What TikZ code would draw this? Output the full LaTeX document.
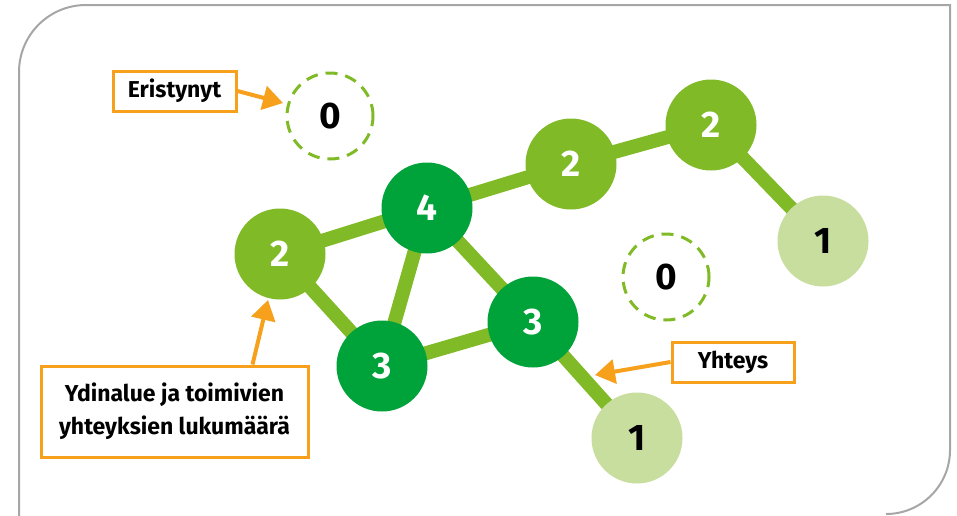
\documentclass[tikz,border=0pt]{standalone}
\usepackage{fontspec}
\setmainfont{Fira Sans}
\usetikzlibrary{arrows.meta,backgrounds}
\definecolor{midgreen}{HTML}{80BA27}
\definecolor{darkgreen}{HTML}{00A23A}
\definecolor{palegreen}{HTML}{C8DE9F}
\definecolor{orangeC}{HTML}{F7A01C}
\definecolor{frameC}{HTML}{A6A6A6}
\tikzset{
  vnode/.style={circle, minimum size=91pt, inner sep=0pt, font=\fontsize{37}{37}\selectfont\bfseries},
  vmid/.style={vnode, fill=midgreen, text=white},
  vdark/.style={vnode, fill=darkgreen, text=white},
  vpale/.style={vnode, fill=palegreen, text=black},
  viso/.style={vnode, minimum size=86pt, draw=midgreen, line width=3pt, dash pattern=on 12pt off 8pt, text=black},
  edgeL/.style={draw=midgreen, line width=14pt},
  lbl/.style={draw=orangeC, line width=3pt, fill=white, inner sep=0pt, align=center, font=\fontsize{23}{33}\selectfont\bfseries},
  arr/.style={draw=orangeC, line width=4pt, -{Triangle[length=20pt,width=24pt]}},
}
\begin{document}
\begin{tikzpicture}[x=1pt,y=-1pt]
\useasboundingbox (0,0) rectangle (957,515);
% frame
\draw[frameC, line width=2pt] (19,530) -- (19,72) arc[start angle=180,end angle=270,radius=67] -- (950,5) -- (950,450) arc[start angle=0,end angle=90,radius=64];
% nodes
\node[viso] (iso1) at (330,116) {0};
\node[viso] (iso2) at (666,277) {0};
\node[vmid] (n2a) at (280,254) {2};
\node[vdark] (n4) at (427,208) {4};
\node[vdark] (n3a) at (382,366) {3};
\node[vdark] (n3b) at (533,322) {3};
\node[vmid] (n2b) at (571,164) {2};
\node[vmid] (n2c) at (711,125) {2};
\node[vpale] (n1a) at (823,241) {1};
\node[vpale] (n1b) at (637,438) {1};
\begin{scope}[on background layer]
\path[edgeL] (n2a.center) -- (n4.center);
\path[edgeL] (n4.center) -- (n2b.center);
\path[edgeL] (n2b.center) -- (n2c.center);
\path[edgeL] (n2c.center) -- (n1a.center);
\path[edgeL] (n2a.center) -- (n3a.center);
\path[edgeL] (n4.center) -- (n3a.center);
\path[edgeL] (n4.center) -- (n3b.center);
\path[edgeL] (n3a.center) -- (n3b.center);
\path[edgeL] (n3b.center) -- (n1b.center);
\end{scope}
% labels
\node[lbl, minimum width=123pt, minimum height=40pt] (lblE) at (174.5,91) {Eristynyt};
\node[lbl, minimum width=267pt, minimum height=91pt] (lblY) at (174.5,411.5) {Ydinalue ja toimivien\\yhteyksien lukumäärä};
\node[lbl, minimum width=122pt, minimum height=40pt] (lblH) at (733,362) {Yhteys};
\coordinate (ytip) at (595,375);
\coordinate (ytip2) at (268,300);
\coordinate (etip) at (283,103);
\draw[arr] (lblE.east) -- (etip);
\draw[arr] ([xshift=78pt]lblY.north) -- (ytip2);
\draw[arr] (lblH.west) -- (ytip);
\end{tikzpicture}
\end{document}
